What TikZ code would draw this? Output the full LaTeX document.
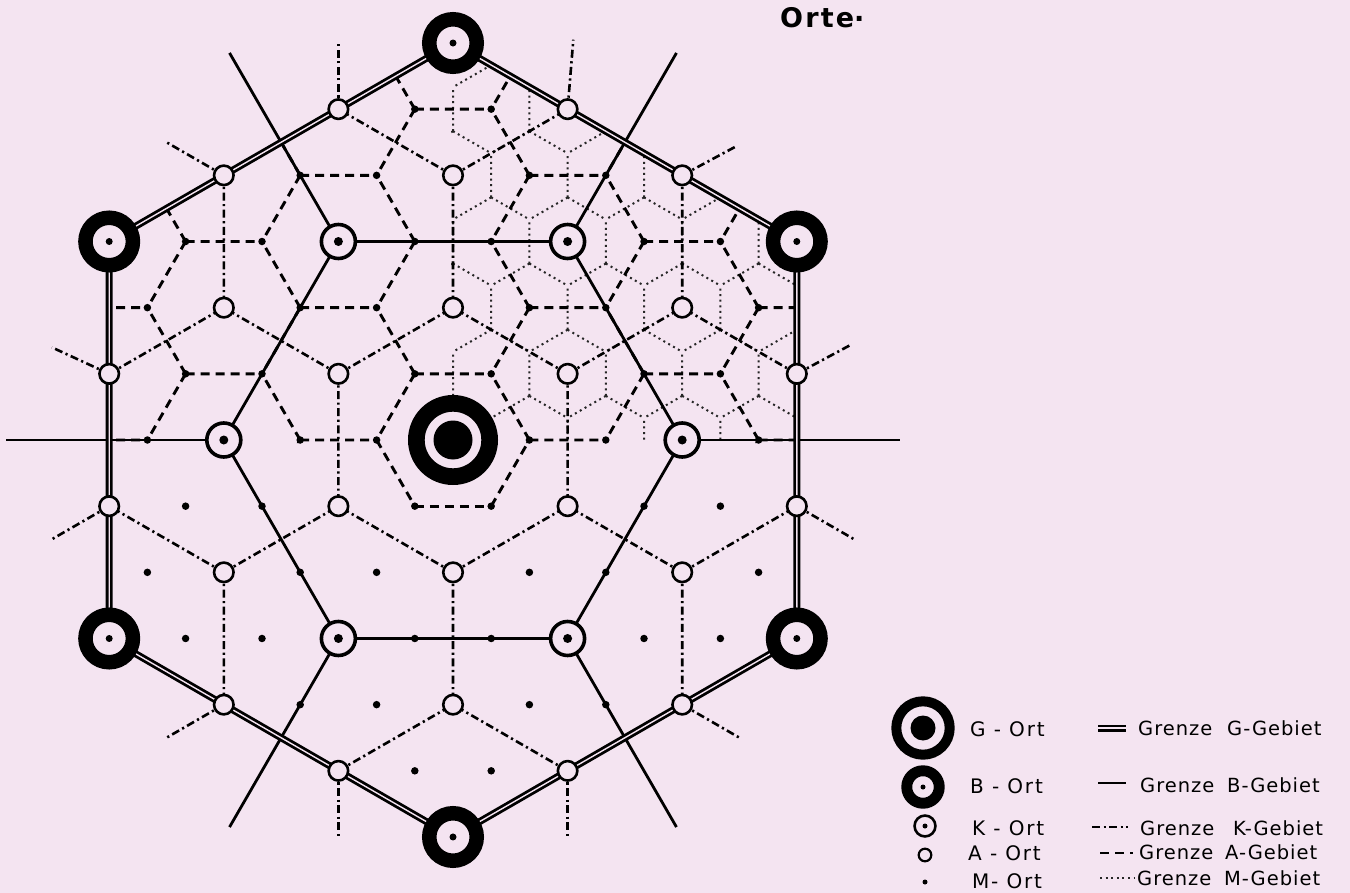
\documentclass[tikz,border=0pt]{standalone}
\usepackage{fontspec}
\setmainfont{DejaVu Sans}
\newfontfamily\legfont[LetterSpace=5]{DejaVu Sans}
\newfontfamily\ortfont[LetterSpace=9]{DejaVu Sans}
\newfontfamily\ttlfont[LetterSpace=8]{DejaVu Sans}
\definecolor{bg}{RGB}{244,228,241}
\pgfdeclarelayer{back}
\pgfdeclarelayer{lines}
\pgfsetlayers{back,lines,main}
\tikzset{
  lattice/.style={shift={(453,440)},x={(76.4pt,0pt)},y={(38.2pt,66.165pt)}},
  gline/.style={line width=2.8pt,double=bg,double distance=1.4pt},
  bline/.style={line width=2.8pt},
  kline/.style={line width=2.6pt,dash pattern=on 8pt off 3.5pt on 2.2pt off 3.5pt},
  aline/.style={line width=2.9pt,dash pattern=on 9pt off 6pt},
  mline/.style={line width=2pt,dash pattern=on 2pt off 3.6pt,black!85},
  aort/.style={circle,draw,line width=2.6pt,fill=bg,inner sep=0pt,minimum size=19.5pt},
  kort/.style={circle,draw,line width=3.6pt,fill=bg,inner sep=0pt,minimum size=34pt},
  bort/.style={circle,draw,line width=14.5pt,fill=bg,inner sep=0pt,minimum size=47.5pt},
  gort/.style={circle,draw,line width=16.7pt,fill=bg,inner sep=0pt,minimum size=73.3pt},
  mdot/.style={circle,fill=black,inner sep=0pt,minimum size=7.5pt},
  legtext/.style={anchor=base west,inner sep=0pt,font=\legfont\fontsize{19.5}{23}\selectfont},
  orttext/.style={anchor=base west,inner sep=0pt,font=\ortfont\fontsize{20}{24}\selectfont},
}
\begin{document}
\begin{tikzpicture}[x=1pt,y=-1pt]
\useasboundingbox (0,0) rectangle (1350,893);
\begin{pgfonlayer}{back}
  \fill[bg] (0,0) rectangle (1350,893);
\end{pgfonlayer}

% ---------------- places ----------------
\begin{scope}[lattice]
  \node[gort] (G) at (0,0) {};
  \fill (G) circle (19.5pt);
  \node[bort] (B1) at (-3,6) {};
  \node[bort] (B2) at (3,3) {};
  \node[bort] (B3) at (6,-3) {};
  \node[bort] (B4) at (3,-6) {};
  \node[bort] (B5) at (-3,-3) {};
  \node[bort] (B6) at (-6,3) {};
  \foreach \n in {1,...,6} \fill (B\n) circle (3.5pt);
  \node[kort] (K1) at (3,0) {};
  \node[kort] (K2) at (0,3) {};
  \node[kort] (K3) at (-3,3) {};
  \node[kort] (K4) at (-3,0) {};
  \node[kort] (K5) at (0,-3) {};
  \node[kort] (K6) at (3,-3) {};
  \foreach \n in {1,...,6} \fill (K\n) circle (4.5pt);
  \foreach \i in {-9,...,9}{
    \foreach \j in {-9,...,9}{
      \pgfmathtruncatemacro\ins{and(and(abs(2*(\i)+(\j))<9.5,abs((\i)+2*(\j))<9.5),abs((\i)-(\j))<9.5)}
      \ifnum\ins=1
        \pgfmathtruncatemacro\mm{mod((\i)-(\j)+30,3)}
        \pgfmathtruncatemacro\ia{mod((\i)+30,3)}
        \pgfmathtruncatemacro\ii{(\i)+20}
        \pgfmathtruncatemacro\jj{(\j)+20}
        \ifnum\mm=0
          \ifnum\ia=0\else
            \node[aort] (A\ii\jj) at (\i,\j) {};
          \fi
        \else
          \node[mdot] (M\ii\jj) at (\i,\j) {};
        \fi
      \fi
    }
  }
\end{scope}

% ---------------- boundaries ----------------
\begin{pgfonlayer}{lines}
  % M-Gebiet (dotted), upper right sector
  \begin{scope}
    \clip (451,43) -- (797.8,241.5) -- (797.8,440) -- (451,440) -- cycle;
    \begin{scope}[lattice]
      \foreach \i in {-6,...,8}{
        \foreach \j in {-1,...,7}{
          \draw[mline] ({\i-1/3},{\j+2/3}) -- ++(-1/3,2/3)
                       ({\i-1/3},{\j+2/3}) -- ++(-1/3,-1/3)
                       ({\i-1/3},{\j+2/3}) -- ++(2/3,-1/3);
        }
      }
    \end{scope}
  \end{scope}
  % A-Gebiet (dashed), upper half
  \begin{scope}
    \clip (109.2,241.5) -- (453,43) -- (796.8,241.5) -- (796.8,443) -- (109.2,443) -- cycle;
    \begin{scope}[lattice]
      \foreach \j in {-1,...,7}{
        \foreach \k in {-6,...,2}{
          \draw[aline] ({\j+1+3*\k},\j) -- ++(1,0)
                       ({\j+1+3*\k},\j) -- ++(0,-1)
                       ({\j+1+3*\k},\j) -- ++(-1,1);
        }
      }
    \end{scope}
  \end{scope}
  \begin{scope}[lattice]
    \draw[aline] (M1920.center) -- (M2019.center);
    \draw[aline] (M2019.center) -- (M2119.center);
    \draw[aline] (M2119.center) -- (M2120.center);
    % K-Gebiet (dash-dot)
    \begin{scope}
      \clip (B1.center) -- (B2.center) -- (B3.center) -- (B4.center) -- (B5.center) -- (B6.center) -- cycle;
      \foreach \a in {-4,...,3}{
        \foreach \b in {-3,...,2}{
          \draw[kline] ({1+3*\a},{1+3*\b}) -- ++(1,1)
                       ({1+3*\a},{1+3*\b}) -- ++(-2,1)
                       ({1+3*\a},{1+3*\b}) -- ++(1,-2);
        }
      }
    \end{scope}
    \draw[kline] (A1925.center) -- ++(-0.45,1.05) coordinate (s1);
    \draw[kline] (A2124.center) -- ++(0.5,0.45) coordinate (s2);
    \draw[kline] (A2421.center) -- ++(0.5,0.45) coordinate (s3);
    \draw[kline] (A2519.center) -- ++(1,-0.5) coordinate (s4);
    \draw[kline] (A2516.center) -- ++(1,-0.5) coordinate (s5);
    \draw[kline] (A2415.center) -- ++(0.5,-1) coordinate (s6);
    \draw[kline] (A2115.center) -- ++(0.5,-1) coordinate (s7);
    \draw[kline] (A1916.center) -- ++(-0.5,-0.5) coordinate (s8);
    \draw[kline] (A1619.center) -- ++(-0.5,-0.5) coordinate (s9);
    \draw[kline] (A1521.center) -- ++(-0.95,0.4) coordinate (s10);
    \draw[kline] (A1524.center) -- ++(-1,0.5) coordinate (s11);
    \draw[kline] (A1625.center) -- ++(-0.5,1) coordinate (s12);
    % B-Gebiet (solid)
    \draw[bline] (K1.center) -- (K2.center) -- (K3.center) -- (K4.center) -- (K5.center) -- (K6.center) -- cycle;
    \draw[bline] (K1.center) -- ++(2.85,0) coordinate (e1);
    \draw[bline] (K2.center) -- ++(0,2.85) coordinate (e2);
    \draw[bline] (K3.center) -- ++(-2.85,2.85) coordinate (e3);
    \draw[bline] (K4.center) -- ++(-2.85,0) coordinate (e4);
    \draw[bline] (K5.center) -- ++(0,-2.85) coordinate (e5);
    \draw[bline] (K6.center) -- ++(2.85,-2.85) coordinate (e6);
    % G-Gebiet (double)
    \draw[gline] (B1.center) -- (B2.center) -- (B3.center) -- (B4.center) -- (B5.center) -- (B6.center) -- cycle;
  \end{scope}
\end{pgfonlayer}

% ---------------- title ----------------
\node[anchor=base west,inner sep=0pt,font=\ttlfont\bfseries\fontsize{27}{31}\selectfont] (title) at (780,28) {Orte\raisebox{0.25em}{.}};

% ---------------- legend ----------------
\node[gort,minimum size=53.4pt,line width=10pt] (LG) at (923,728) {};
\fill (LG) circle (12.5pt);
\node[bort,minimum size=32.5pt,line width=10.9pt] (LB) at (923,787) {};
\fill (LB) circle (2.5pt);
\node[kort,minimum size=20.9pt,line width=2.6pt] (LK) at (925,826) {};
\fill (LK) circle (2.5pt);
\node[aort,minimum size=12.6pt,line width=2.2pt] (LA) at (925,855) {};
\node[mdot,minimum size=5pt] (LM) at (925,882) {};

\node[orttext] (tG) at (970,736) {G - Ort};
\node[orttext] (tB) at (970,793) {B - Ort};
\node[orttext] (tK) at (972,835) {K - Ort};
\node[orttext] (tA) at (968,860) {A - Ort};
\node[orttext] (tM) at (972,888) {M- Ort};

\coordinate (lg1) at (1098,728); \coordinate (lg2) at (1126,728);
\draw[gline] (lg1) -- (lg2);
\coordinate (lb1) at (1098,783); \coordinate (lb2) at (1126,783);
\draw[bline] (lb1) -- (lb2);
\coordinate (lk1) at (1092,827); \coordinate (lk2) at (1128,827);
\draw[kline] (lk1) -- (lk2);
\coordinate (la1) at (1100,853); \coordinate (la2) at (1133,853);
\draw[aline] (la1) -- (la2);
\coordinate (lm1) at (1100,878); \coordinate (lm2) at (1135,878);
\draw[mline] (lm1) -- (lm2);

\node[legtext] (gG) at (1138,735) {Grenze};
\node[legtext] (gB) at (1140,792) {Grenze};
\node[legtext] (gK) at (1140,835) {Grenze};
\node[legtext] (gA) at (1139,859) {Grenze};
\node[legtext] (gM) at (1137,885) {Grenze};
\node[legtext] (hG) at (1227,735) {G-Gebiet};
\node[legtext] (hB) at (1227,792) {B-Gebiet};
\node[legtext] (hK) at (1233,835) {K-Gebiet};
\node[legtext] (hA) at (1225,859) {A-Gebiet};
\node[legtext] (hM) at (1224,885) {M-Gebiet};
\end{tikzpicture}
\end{document}
